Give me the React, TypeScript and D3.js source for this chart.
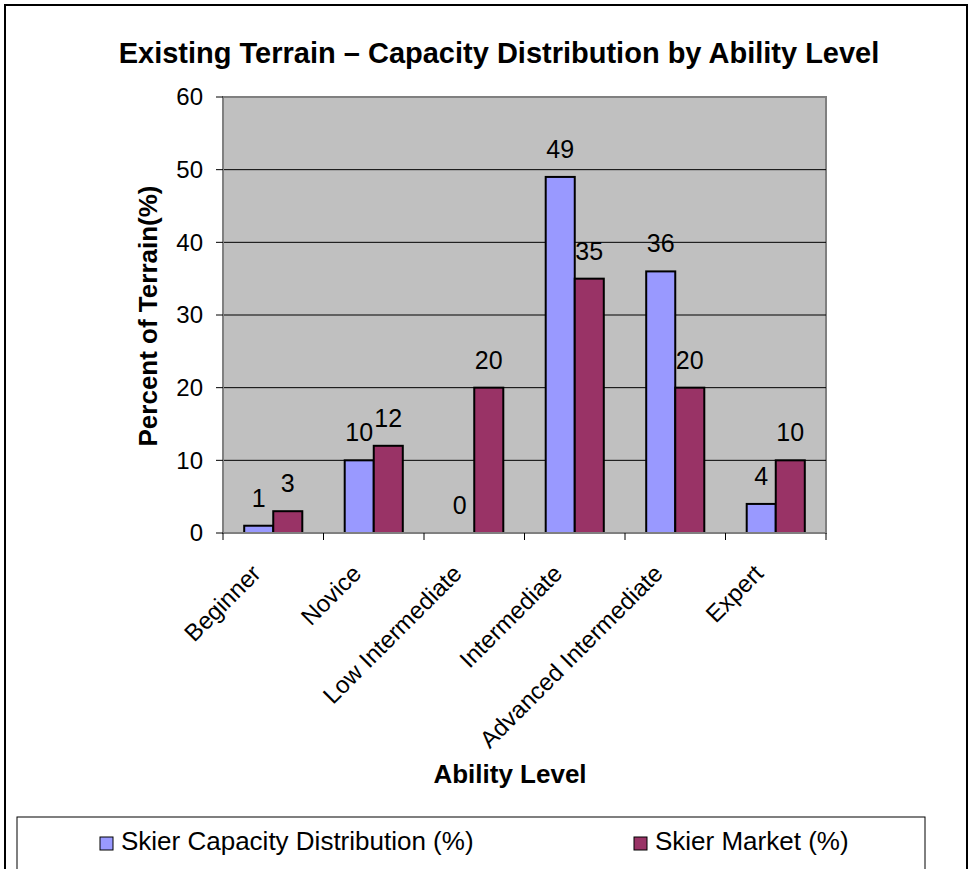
import * as d3 from 'd3';
import { useEffect, useRef } from 'react';

const categories = ['Beginner', 'Novice', 'Low Intermediate', 'Intermediate', 'Advanced Intermediate', 'Expert'];
const seriesNames = ['Skier Capacity Distribution (%)', 'Skier Market (%)'];
const capacity = [1, 10, 0, 49, 36, 4];
const market = [3, 12, 20, 35, 20, 10];
const yTicks = [0, 10, 20, 30, 40, 50, 60];
const seriesColors = ['#9999FF', '#993366'];

function App() {
    const svgRef = useRef<SVGSVGElement>(null);

    useEffect(() => {
        const svg = d3.select(svgRef.current);
        svg.selectAll('*').remove();
        const height = 869;
        const font = 'Arial, "Liberation Sans", sans-serif';
        const plot = { left: 223, right: 826, top: 97, bottom: 533 };

        // outer frame
        svg.append('rect')
            .attr('x', 5).attr('y', 5)
            .attr('width', 962).attr('height', height)
            .attr('fill', '#fff')
            .attr('stroke', '#000')
            .attr('stroke-width', 2);

        // title
        svg.append('text')
            .attr('x', 499).attr('y', 63)
            .attr('text-anchor', 'middle')
            .attr('font-family', font)
            .attr('font-weight', 'bold')
            .attr('font-size', 29)
            .text('Existing Terrain – Capacity Distribution by Ability Level');

        // scales
        const x0 = d3.scaleBand<string>().domain(categories).range([plot.left, plot.right]).padding(0);
        const x1 = d3.scaleBand<string>().domain(seriesNames).range([0, x0.bandwidth()]).paddingInner(0).paddingOuter(0.73);
        const y = d3.scaleLinear().domain([0, 60]).range([plot.bottom, plot.top]);

        // plot background
        svg.append('rect')
            .attr('x', plot.left).attr('y', plot.top)
            .attr('width', plot.right - plot.left).attr('height', plot.bottom - plot.top)
            .attr('fill', '#C0C0C0')
            .attr('stroke', '#808080')
            .attr('stroke-width', 2);

        // gridlines
        svg.append('g').selectAll('line')
            .data(yTicks.filter(t => t > 0 && t < 60))
            .join('line')
            .attr('x1', plot.left).attr('x2', plot.right)
            .attr('y1', d => y(d)).attr('y2', d => y(d))
            .attr('stroke', '#000').attr('stroke-width', 1);

        // bars + value labels
        const seriesData = [capacity, market];
        seriesData.forEach((vals, si) => {
            svg.append('g').selectAll('rect')
                .data(vals)
                .join('rect')
                .attr('x', (_, i) => x0(categories[i])! + x1(seriesNames[si])!)
                .attr('y', d => y(d))
                .attr('width', x1.bandwidth())
                .attr('height', d => y(0) - y(d))
                .attr('fill', seriesColors[si])
                .attr('stroke', '#000')
                .attr('stroke-width', 2);

            svg.append('g').selectAll('text')
                .data(vals)
                .join('text')
                .attr('x', (_, i) => x0(categories[i])! + x1(seriesNames[si])! + x1.bandwidth() / 2)
                .attr('y', d => y(d) - 19)
                .attr('text-anchor', 'middle')
                .attr('font-family', font)
                .attr('font-size', 25)
                .text(d => d);
        });

        // axis lines
        svg.append('line')
            .attr('x1', plot.left).attr('x2', plot.left)
            .attr('y1', plot.top).attr('y2', plot.bottom)
            .attr('stroke', '#808080').attr('stroke-width', 2);
        svg.append('line')
            .attr('x1', plot.left).attr('x2', plot.right)
            .attr('y1', plot.bottom).attr('y2', plot.bottom)
            .attr('stroke', '#808080').attr('stroke-width', 2);

        // y ticks
        const yAxis = svg.append('g');
        yAxis.selectAll('line')
            .data(yTicks)
            .join('line')
            .attr('x1', plot.left - 7).attr('x2', plot.left)
            .attr('y1', d => y(d)).attr('y2', d => y(d))
            .attr('stroke', '#000');
        yAxis.selectAll('text')
            .data(yTicks)
            .join('text')
            .attr('x', plot.left - 20)
            .attr('y', d => y(d))
            .attr('dy', '0.35em')
            .attr('text-anchor', 'end')
            .attr('font-family', font)
            .attr('font-size', 24)
            .text(d => d);

        // x ticks at category boundaries
        const bounds = categories.map(c => x0(c)!).concat([plot.right]);
        svg.append('g').selectAll('line')
            .data(bounds)
            .join('line')
            .attr('x1', d => d).attr('x2', d => d)
            .attr('y1', plot.bottom).attr('y2', plot.bottom + 7)
            .attr('stroke', '#000');

        // x labels rotated
        svg.append('g').selectAll('text')
            .data(categories)
            .join('text')
            .attr('transform', d => `translate(${x0(d)! + x0.bandwidth() / 2 - 11},${plot.bottom + 42}) rotate(-45)`)
            .attr('text-anchor', 'end')
            .attr('font-family', font)
            .attr('font-size', 24)
            .text(d => d);

        // axis titles
        svg.append('text')
            .attr('x', 510).attr('y', 783)
            .attr('text-anchor', 'middle')
            .attr('font-family', font)
            .attr('font-weight', 'bold')
            .attr('font-size', 26)
            .text('Ability Level');
        svg.append('text')
            .attr('transform', 'translate(157,316) rotate(-90)')
            .attr('text-anchor', 'middle')
            .attr('font-family', font)
            .attr('font-weight', 'bold')
            .attr('font-size', 26)
            .text('Percent of Terrain(%)');

        // legend
        svg.append('rect')
            .attr('x', 17).attr('y', 817)
            .attr('width', 908).attr('height', 80)
            .attr('fill', '#fff')
            .attr('stroke', '#000')
            .attr('stroke-width', 1);
        const legendX = [100, 634];
        const legend = svg.append('g').selectAll('g')
            .data(seriesNames)
            .join('g')
            .attr('transform', (_, i) => `translate(${legendX[i]},837)`);
        legend.append('rect')
            .attr('width', 13).attr('height', 13)
            .attr('fill', (_, i) => seriesColors[i])
            .attr('stroke', '#000').attr('stroke-width', 1);
        legend.append('text')
            .attr('x', 21).attr('y', 13)
            .attr('font-family', font)
            .attr('font-size', 26)
            .text(d => d);
    }, []);

    return (
        <svg ref={svgRef} width={972} height={869} style={{ position: 'absolute', left: 0, top: 0 }} />
    );
}

export default App;
